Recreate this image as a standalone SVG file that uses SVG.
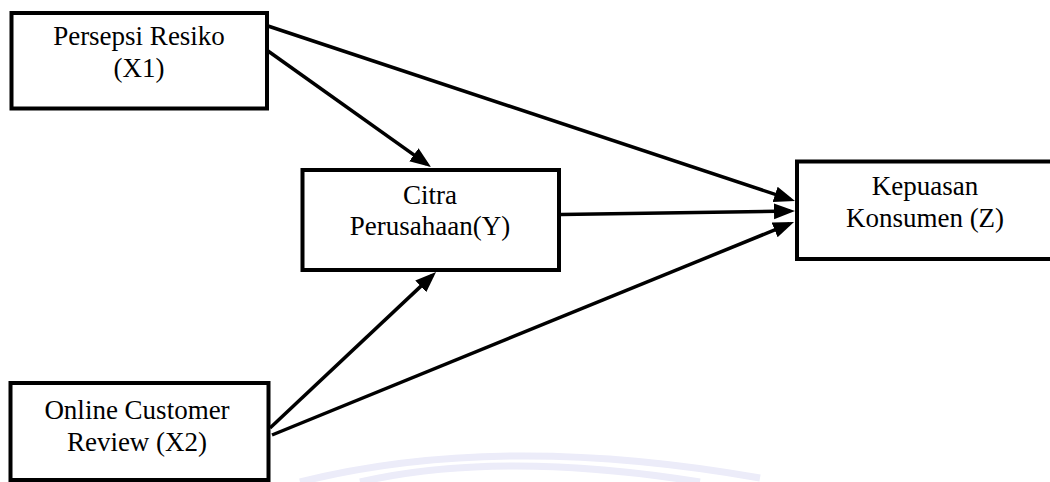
<svg xmlns="http://www.w3.org/2000/svg" width="1050" height="482" viewBox="0 0 1050 482">
<style>
.box{fill:#fff;stroke:#000;stroke-width:4}
.lbl{font-family:"Liberation Serif","Times New Roman",serif;font-size:27px;fill:#000;text-anchor:middle}
.edge{stroke:#000;stroke-width:3.5;fill:none}
.wm{fill:none;stroke:#ececf9;stroke-width:7}
</style>
<defs>
<marker id="arr" markerUnits="userSpaceOnUse" markerWidth="24" markerHeight="18" refX="16" refY="8" orient="auto">
<path d="M0,0 L21,8 L0,16 z" fill="#000"/>
</marker>
</defs>
<rect width="1050" height="482" fill="#fff"/>
<g id="watermark">
<path class="wm" d="M300,482 Q500,432 760,478"/>
<path class="wm" d="M360,482 Q500,450 700,482"/>
</g>
<g id="connectors">
<line class="edge" x1="268" y1="26" x2="790.3" y2="199.4" marker-end="url(#arr)"/>
<line class="edge" x1="268" y1="51" x2="426.9" y2="164.1" marker-end="url(#arr)"/>
<line class="edge" x1="561" y1="214.5" x2="790" y2="211.1" marker-end="url(#arr)"/>
<line class="edge" x1="270" y1="428" x2="432.4" y2="275.4" marker-end="url(#arr)"/>
<line class="edge" x1="272" y1="435" x2="789.4" y2="223.9" marker-end="url(#arr)"/>
</g>
<g id="x1">
<rect class="box" x="11.5" y="13" width="255.5" height="95.5"/>
<text class="lbl" x="139" y="45">Persepsi Resiko</text>
<text class="lbl" x="139" y="77">(X1)</text>
</g>
<g id="y">
<rect class="box" x="302.5" y="170" width="256.5" height="100"/>
<text class="lbl" x="430" y="204">Citra</text>
<text class="lbl" x="430" y="235">Perusahaan(Y)</text>
</g>
<g id="z">
<rect class="box" x="797" y="161.5" width="262" height="97.5"/>
<text class="lbl" x="925" y="195">Kepuasan</text>
<text class="lbl" x="925" y="227">Konsumen (Z)</text>
</g>
<g id="x2">
<rect class="box" x="10.5" y="383" width="258" height="97"/>
<text class="lbl" x="137" y="419">Online Customer</text>
<text class="lbl" x="137" y="451">Review (X2)</text>
</g>
</svg>
